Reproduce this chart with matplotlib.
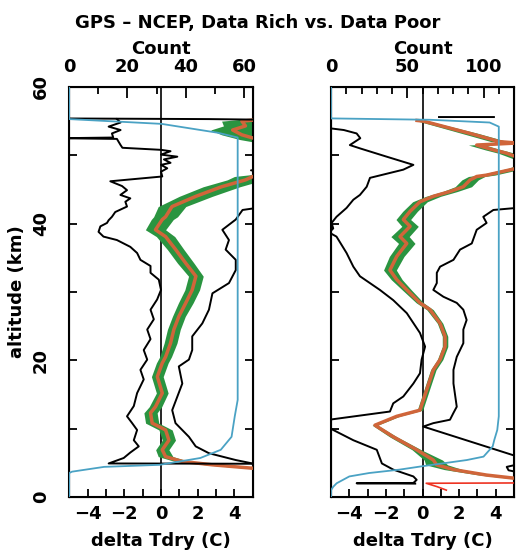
import numpy as np
import matplotlib.pyplot as plt
from matplotlib.ticker import MultipleLocator

plt.rcParams['font.family'] = ['DejaVu Sans']
plt.rcParams['font.weight'] = 'bold'
plt.rcParams['font.size'] = 13

nan = np.nan

# ---------------- data rich (left panel) ----------------
rich_mean_alt = [55.4, 55.0, 54.3, 53.7, 53.0, 52.3, 51.5, 47.5, 46.9, 46.4, 45.4, 44.0, 42.5, 41.0,
                 40.6, 39.1, 38.1, 36.2, 34.2, 32.3, 30.3, 28.4, 26.4, 24.5, 22.5, 20.5, 19.6, 17.6,
                 15.2, 13.2, 12.3, 10.8, 9.8, 8.3, 6.9, 5.9, 5.2, 4.7, 4.2, 4.0]
rich_mean = [6.0, 4.4, 4.6, 3.9, 4.4, 5.3, 7.0, 7.0, 5.0, 4.6, 3.3, 1.9, 0.6, 0.25,
             0.07, -0.3, 0.25, 0.8, 1.35, 1.9, 1.7, 1.35, 0.97, 0.7, 0.52, 0.25, 0.07, -0.2,
             0.07, -0.3, -0.57, -0.48, 0.25, 0.43, 0.07, 0.25, 1.15, 2.8, 5.0, 6.0]
rich_err = [1.1, 1.1, 1.2, 1.2, 1.1, 1.0, 1.0, 1.0, 1.0, 1.0, 1.0, 0.9, 0.75, 0.65,
            0.6, 0.55, 0.5, 0.45, 0.45, 0.4, 0.4, 0.4, 0.35, 0.35, 0.35, 0.32, 0.32, 0.32,
            0.32, 0.34, 0.36, 0.36, 0.36, 0.36, 0.36, 0.4, 0.4, 0.4, 0.4, 0.4]

rich_lo_alt = [55.3, 54.8, 54.2, 53.7, 53.2, 52.6, 52.5, 52.4, 51.5, 51.1, 50.8, 50.6, 50.1, 49.8,
               49.4, 48.9, 48.6, 48.1, 47.6, 46.9, 46.2, 45.5, 44.9, 44.2, 43.7, 43.2, 42.5, 41.7,
               41.0, 40.5, 40.1, 39.6, 38.8, 38.1, 37.6, 36.6, 35.7, 34.7, 33.8, 32.8, 31.8, 30.3,
               28.9, 27.4, 26.0, 24.5, 23.1, 21.5, 20.1, 18.6, 17.2, 15.2, 13.3, 11.8, 10.8, 9.8,
               8.3, 7.4, 6.5, 5.7, 4.9, 4.85]
rich_lo = [-2.4, -2.2, -2.85, -2.2, -2.67, -2.6, -5.5, -2.4, -2.2, -2.1, 0.0, 0.52, 0.0, 0.89,
           0.16, 0.52, 0.0, 0.34, 0.0, 0.07, -2.76, -2.12, -1.85, -2.21, -1.67, -1.94, -1.85, -2.49,
           -2.67, -2.85, -2.94, -3.3, -3.4, -3.13, -2.4, -1.67, -1.3, -1.12, -0.57, -0.57, -0.12, 0.0,
           -0.21, -0.57, -0.39, -0.75, -0.57, -0.94, -0.75, -1.12, -0.94, -1.3, -1.48, -1.85, -1.57, -1.3,
           -1.48, -1.21, -1.67, -2.03, -2.85, 6.0]

rich_hi_alt = [55.4, 55.3, 55.2, 48.0, 47.8, 47.6, 42.6, 42.0, 40.6, 39.1, 37.6, 36.2, 34.7, 33.2,
               31.3, 29.8, 27.4, 25.4, 23.5, 21.5, 20.1, 19.1, 16.6, 12.7, 10.8, 8.8, 7.4, 6.4,
               5.4, 4.9, 4.8]
rich_hi = [-6.0, 2.6, 6.0, 6.0, 4.9, 6.0, 6.0, 4.44, 4.07, 3.34, 3.7, 3.52, 4.07, 4.07,
           3.7, 2.8, 2.61, 2.25, 1.7, 1.7, 1.52, 0.97, 1.16, 0.61, 0.79, 1.52, 1.89, 2.61,
           4.07, 4.98, 6.0]

rich_cnt_alt = [0, 3.5, 3.7, 4.4, 4.7, 5.7, 6.9, 8.8, 11.8, 14.2, 52.6, 53.3, 54.6, 55.3, 60]
rich_cnt = [0, 0, 1, 12, 31, 45, 52, 55.7, 56.8, 57.8, 57.8, 51, 31.7, 0, 0]

# ---------------- data poor (right panel) ----------------
poor_mean_alt = [55.1, 55.0, 53.2, 52.0, 51.8, 51.5, 50.8, 50.3, 49.6, 49.0, 48.1, 47.1, 46.9, 46.4,
                 45.4, 44.7, 44.0, 43.2, 41.8, 40.6, 39.6, 38.1, 37.1, 35.2, 33.2, 31.8, 30.3, 28.4,
                 27.4, 25.4, 23.5, 22.0, 20.1, 18.6, 15.7, 12.7, 11.8, 10.5, 8.8, 6.9, 5.4, 4.7,
                 4.0, 3.2, 2.7, 2.3]
poor_mean = [-0.3, 0.05, 2.6, 4.2, 5.15, 2.96, 3.87, 4.6, 5.3, 6.0, 5.15, 3.5, 2.96, 2.6,
             2.23, 1.5, 0.59, -0.14, -0.68, -1.05, -0.68, -1.23, -0.86, -1.41, -1.78, -1.41, -0.86, -0.14,
             0.41, 0.96, 1.23, 1.23, 0.96, 0.59, 0.23, -0.14, -1.41, -2.6, -1.6, -0.32, 0.59, 0.77,
             1.69, 3.5, 5.15, 6.0]
poor_err = [0.1, 0.3, 0.45, 0.45, 0.45, 0.45, 0.45, 0.45, 0.45, 0.45, 0.45, 0.45, 0.45, 0.45,
            0.45, 0.4, 0.4, 0.4, 0.4, 0.4, 0.45, 0.5, 0.45, 0.4, 0.35, 0.3, 0.25, 0.2,
            0.18, 0.15, 0.15, 0.15, 0.15, 0.15, 0.15, 0.15, 0.15, 0.15, 0.2, 0.25, 0.5, 0.6,
            0.5, 0.4, 0.3, 0.3]
# thin red tail below the band
poor_tail_alt = [2.3, 2.05, 2.0, 1.5, 1.0]
poor_tail = [6.0, 5.5, 0.2, 0.8, 1.3]

poor_lo_alt = [54.0, 53.7, 53.2, 52.5, 51.5, 51.0, 49.8, 48.6, 47.9, 46.7, 45.4, 44.2, 43.5, 42.3,
               41.0, 40.1, 39.3, 38.7, 38.1, 35.7, 33.7, 32.3, 30.3, 28.8, 26.9, 24.0, 22.0, 20.1,
               18.1, 16.6, 14.7, 13.7, 12.5, 11.3, 10.7, 10.1, 8.3, 6.9, 4.9, 4.0, 3.0, 2.5,
               2.05, 2.0, 1.95]
poor_lo = [-5.2, -4.3, -3.6, -3.4, -3.97, -3.4, -1.96, -0.5, -1.05, -2.87, -3.05, -3.42, -3.78, -4.15,
           -4.7, -4.97, -4.88, -5.1, -4.7, -4.15, -3.78, -3.42, -2.33, -1.6, -0.86, -0.14, 0.14, -0.05,
           -0.14, -0.5, -1.05, -1.6, -1.78, -5.1, -5.6, -5.1, -3.78, -2.5, -2.22, -1.6, -0.5, -0.32,
           -0.5, -3.6, -0.4]

poor_hi_alt = [55.6, 55.6, nan, 42.5, 42.0, 41.0, 40.1, 39.1, 37.1, 36.2, 34.7, 33.7, 32.8, 31.3,
               30.3, 29.3, 28.4, 27.4, 25.9, 24.5, 22.5, 20.5, 18.6, 16.6, 13.2, 12.3, 11.3, 10.8,
               10.3, 5.9, 5.0, 4.4, 3.9, 3.4]
poor_hi = [0.9, 3.9, nan, 6.0, 3.87, 3.32, 3.5, 2.96, 2.69, 2.05, 1.69, 0.96, 0.78, 0.78,
           0.59, 1.14, 1.87, 2.23, 2.41, 2.23, 2.23, 1.87, 1.69, 1.69, 1.87, 1.69, 1.5, 0.59,
           0.04, 5.2, 5.6, 4.6, 4.7, 5.6]

poor_cnt_alt = [0, 1.0, 1.5, 2.0, 3.0, 3.5, 4.0, 4.5, 5.4, 5.9, 6.9, 7.4, 8.3, 9.8, 11.8,
                54.2, 54.8, 55.2, 55.4, 60]
poor_cnt = [0, 0, 1.5, 3.7, 12, 25, 45, 60, 89, 100, 104, 106, 107, 109, 110,
            110, 104, 65, 0, 0]

green = '#2a9440'
mean_col = '#d0653a'
cyan = '#4aa2c4'


def panel(ax, m_alt, m, err, lo_alt, lo, hi_alt, hi, c_alt, c, cmax, cmaj, show_y):
    m_alt = np.array(m_alt)
    m = np.array(m)
    err = np.array(err)
    ax.fill_betweenx(m_alt, m - err, m + err, color=green, lw=0, zorder=2)
    ax.plot(m, m_alt, color=mean_col, lw=2.5, zorder=3)
    ax.plot(lo, lo_alt, color='black', lw=1.4, zorder=4)
    ax.plot(hi, hi_alt, color='black', lw=1.4, zorder=4)
    ax.axvline(0, color='black', lw=1.2, zorder=1)
    ax.set_xlim(-5, 5)
    ax.set_ylim(0, 60)
    ax.xaxis.set_major_locator(MultipleLocator(2))
    ax.xaxis.set_minor_locator(MultipleLocator(1))
    ax.yaxis.set_major_locator(MultipleLocator(20))
    ax.yaxis.set_minor_locator(MultipleLocator(10))
    ax.tick_params(which='both', direction='in', right=True, top=False, width=1.3, length=6)
    ax.tick_params(axis='x', pad=6)
    ax.set_xlabel('delta Tdry (C)', fontweight='bold', labelpad=6)
    if show_y:
        ax.tick_params(axis='y', pad=14, labelrotation=90)
        for t in ax.get_yticklabels():
            t.set_va('center')
        ax.set_ylabel('altitude (km)', fontweight='bold', labelpad=4)
    else:
        ax.tick_params(axis='y', labelleft=False)
    for s in ax.spines.values():
        s.set_linewidth(1.5)

    tw = ax.twiny()
    tw.plot(c, c_alt, color=cyan, lw=1.3, zorder=5)
    tw.set_xlim(0, cmax)
    tw.xaxis.set_major_locator(MultipleLocator(cmaj))
    tw.xaxis.set_minor_locator(MultipleLocator(10))
    tw.tick_params(which='both', direction='in', width=1.3, pad=8)
    tw.tick_params(which='major', length=8)
    tw.tick_params(which='minor', length=5)
    tw.set_xlabel('Count', fontweight='bold', labelpad=3)
    return tw


fig = plt.figure(figsize=(5.16, 5.54), dpi=100)
ax1 = fig.add_axes([0.134, 0.103, 0.356, 0.740])
ax2 = fig.add_axes([0.6415, 0.103, 0.3547, 0.740])

panel(ax1, rich_mean_alt, rich_mean, rich_err, rich_lo_alt, rich_lo, rich_hi_alt, rich_hi,
      rich_cnt_alt, rich_cnt, 63, 20, True)
panel(ax2, poor_mean_alt, poor_mean, poor_err, poor_lo_alt, poor_lo, poor_hi_alt, poor_hi,
      poor_cnt_alt, poor_cnt, 120, 50, False)
ax2.plot(poor_tail, poor_tail_alt, color='#ee3322', lw=1.2, zorder=3)

fig.suptitle('GPS \u2013 NCEP, Data Rich vs. Data Poor', fontweight='bold', fontsize=13, y=0.975)

plt.savefig('out.png', dpi=100)
